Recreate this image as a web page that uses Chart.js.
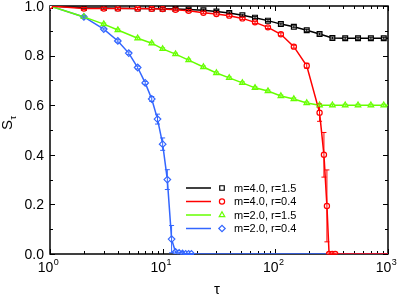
<!DOCTYPE html>
<html>
<head>
<meta charset="utf-8">
<script src="https://cdn.jsdelivr.net/npm/chart.js@4/dist/chart.umd.min.js"></script>
<style>
  html, body { margin: 0; padding: 0; background: #fff; }
  #wrap { width: 399px; height: 296px; }
</style>
</head>
<body>
<div id="wrap"><canvas id="chart"></canvas></div>
<script>
// tau sampled at floor(1.3^n)
const tauGeo = [1,2,3,4,6,8,10,13,17,23,30,39,51,66,86,112,146,190,247,321,417,542,705,917];

const tauBlack = tauGeo;
const sBlack = [1.0,0.993,0.992,0.991,0.99,0.99,0.989,0.988,0.986,0.983,0.978,0.972,0.963,0.953,0.941,0.927,0.916,0.902,0.887,0.871,0.87,0.87,0.87,0.87];
const errBlack = [0,0.004,0.004,0.004,0.004,0.004,0.004,0.004,0.004,0.004,0.004,0.004,0.004,0.004,0.004,0.004,0.004,0.004,0.004,0.004,0.004,0.004,0.004,0.004];

const tauRed = [1,2,3,4,6,8,10,13,17,23,30,39,51,66,86,112,146,190,247,270,287,300,320,340];
const sRed = [1.0,0.99,0.99,0.99,0.99,0.989,0.988,0.985,0.981,0.973,0.968,0.961,0.95,0.934,0.914,0.886,0.836,0.759,0.57,0.40,0.194,0.0,0.0,0.0];
const errRed = [0,0.004,0.004,0.004,0.004,0.004,0.004,0.004,0.004,0.004,0.004,0.004,0.004,0.004,0.005,0.006,0.006,0.01,0.035,0.09,0.145,0.004,0.003,0.003];

const tauGreen = tauGeo;
const sGreen = [1.0,0.956,0.927,0.903,0.87,0.85,0.827,0.806,0.782,0.754,0.73,0.71,0.69,0.67,0.657,0.637,0.625,0.609,0.60,0.60,0.60,0.60,0.60,0.60];
const errGreen = [0,0.004,0.004,0.004,0.004,0.004,0.004,0.004,0.004,0.004,0.004,0.004,0.004,0.004,0.004,0.004,0.004,0.004,0.004,0.004,0.004,0.004,0.004,0.004];

const tauBlue = [1,2,3,4,5,6,7,8,9,10,11,12,13,14,15,16,17,18];
const sBlue = [1.0,0.956,0.907,0.859,0.81,0.752,0.69,0.625,0.544,0.443,0.30,0.06,0.008,0.004,0.002,0,0,0];
const errBlue = [0,0.004,0.004,0.005,0.005,0.006,0.006,0.01,0.02,0.025,0.04,0.055,0.004,0.003,0.003,0.002,0.002,0.002];

const labels = ["m=4.0, r=1.5", "m=4.0, r=0.4", "m=2.0, r=1.5", "m=2.0, r=0.4"];
const xTicks = [1, 10, 100, 1000];
const yTicks = [0, 0.2, 0.4, 0.6, 0.8, 1.0];

const TAU_MAX = 1000;
const FONT = '"Liberation Sans", Arial, sans-serif';

function series(label, xs, ys, errs, color, style, radius, order) {
  const n = xs.length;
  const data = xs.map((x, i) => ({x: x, y: ys[i], e: errs[i]}));
  data.push({x: TAU_MAX, y: ys[n - 1], e: 0}); // line runs on to the frame
  return {
    label: label,
    data: data,
    order: order,
    borderColor: color,
    borderWidth: 1.5,
    pointStyle: style,
    pointRadius: ctx => ctx.dataIndex < n ? radius : 0,
    pointBorderColor: color,
    pointBackgroundColor: '#fff',
    pointBorderWidth: 1.2,
    tension: 0
  };
}

const datasets = [
  series(labels[0], tauBlack, sBlack, errBlack, '#000000', 'rect', 3.4, 1),
  series(labels[1], tauRed, sRed, errRed, '#ff0000', 'circle', 2.6, 0),
  series(labels[2], tauGreen, sGreen, errGreen, '#66ff00', 'triangle', 3.2, 2),
  series(labels[3], tauBlue, sBlue, errBlue, '#3366ff', 'rectRot', 3.3, 3)
];

// frame + inward ticks, under the curves
const framePlugin = {
  id: 'frame',
  beforeDatasetsDraw(chart) {
    const {ctx, chartArea: a, scales: {x, y}} = chart;
    ctx.save();
    ctx.strokeStyle = '#000';
    ctx.lineWidth = 1.5;
    ctx.strokeRect(a.left, a.top, a.right - a.left, a.bottom - a.top);
    ctx.lineWidth = 1;
    ctx.beginPath();
    for (let k = 0; k <= 10; k++) {
      const v = k / 10;
      const py = Math.round(y.getPixelForValue(v)) + 0.5;
      const len = k % 2 === 0 ? 5 : 3;
      ctx.moveTo(a.left, py); ctx.lineTo(a.left + len, py);
      ctx.moveTo(a.right, py); ctx.lineTo(a.right - len, py);
    }
    for (let d = 1; d <= 1000; d *= 10) {
      for (let m = 1; m <= 9; m++) {
        const v = d * m;
        if (v > 1000) break;
        const px = Math.round(x.getPixelForValue(v)) + 0.5;
        const len = m === 1 ? 5 : 3;
        ctx.moveTo(px, a.bottom); ctx.lineTo(px, a.bottom - len);
        ctx.moveTo(px, a.top); ctx.lineTo(px, a.top + len);
      }
    }
    ctx.stroke();
    ctx.restore();
  }
};

const errorBarPlugin = {
  id: 'errbars',
  afterDatasetsDraw(chart) {
    const {ctx, chartArea: a, scales: {x, y}} = chart;
    ctx.save();
    ctx.beginPath();
    ctx.rect(a.left, a.top - 1, a.right - a.left, a.bottom - a.top + 2);
    ctx.clip();
    chart.data.datasets.forEach(ds => {
      ctx.strokeStyle = ds.borderColor;
      ctx.lineWidth = 1;
      ds.data.forEach(p => {
        if (!p.e) return;
        const px = x.getPixelForValue(p.x);
        const y1 = y.getPixelForValue(p.y + p.e);
        const y2 = y.getPixelForValue(p.y - p.e);
        ctx.beginPath();
        ctx.moveTo(px, y1); ctx.lineTo(px, y2);
        ctx.moveTo(px - 2.5, y1); ctx.lineTo(px + 2.5, y1);
        ctx.moveTo(px - 2.5, y2); ctx.lineTo(px + 2.5, y2);
        ctx.stroke();
      });
    });
    ctx.restore();
  }
};

const labelPlugin = {
  id: 'labels',
  afterDraw(chart) {
    const {ctx, chartArea: a, scales: {x, y}} = chart;
    ctx.save();
    ctx.fillStyle = '#000';

    // y tick labels
    ctx.font = '14px ' + FONT;
    ctx.textAlign = 'right';
    ctx.textBaseline = 'middle';
    yTicks.forEach(v => ctx.fillText(v.toFixed(1), a.left - 6, y.getPixelForValue(v) + 1));

    // x tick labels 10^k
    ctx.textBaseline = 'alphabetic';
    ctx.textAlign = 'left';
    xTicks.forEach(v => {
      const k = String(Math.round(Math.log10(v)));
      ctx.font = '14px ' + FONT;
      const w1 = ctx.measureText('10').width;
      ctx.font = '9px ' + FONT;
      const w2 = ctx.measureText(k).width;
      const x0 = x.getPixelForValue(v) - (w1 + w2) / 2 - 2;
      ctx.font = '14px ' + FONT;
      ctx.fillText('10', x0, a.bottom + 18);
      ctx.font = '9px ' + FONT;
      ctx.fillText(k, x0 + w1 + 0.5, a.bottom + 11);
    });

    // axis titles
    ctx.font = '15px ' + FONT;
    ctx.textAlign = 'center';
    ctx.fillText('\u03c4', (a.left + a.right) / 2 - 2, 294);

    ctx.translate(12, 125);
    ctx.rotate(-Math.PI / 2);
    ctx.textAlign = 'left';
    ctx.font = '15px ' + FONT;
    const sw = ctx.measureText('S').width;
    ctx.fillText('S', -sw / 2, 0);
    ctx.font = '9px ' + FONT;
    ctx.fillText('\u03c4', sw / 2 + 0.5, 4);
    ctx.restore();

    // legend: line, marker, text
    ctx.save();
    chart.data.datasets.forEach((ds, i) => {
      const ly = a.top + 182 + i * 13.5;
      ctx.strokeStyle = ds.borderColor;
      ctx.lineWidth = 1.5;
      ctx.beginPath();
      ctx.moveTo(a.left + 136, ly); ctx.lineTo(a.left + 161, ly);
      ctx.stroke();
      ctx.fillStyle = '#fff';
      ctx.lineWidth = 1.2;
      const r = ds.pointStyle === 'circle' ? 2.6 : 3.2;
      Chart.helpers.drawPoint(ctx, {pointStyle: ds.pointStyle, radius: r, rotation: 0, borderWidth: 1.2}, a.left + 172, ly);
      ctx.fillStyle = '#000';
      ctx.font = '11px ' + FONT;
      ctx.textAlign = 'left';
      ctx.textBaseline = 'middle';
      ctx.fillText(ds.label, a.left + 184, ly + 0.5);
    });
    ctx.restore();
  }
};

new Chart(document.getElementById('chart'), {
  type: 'line',
  data: {datasets: datasets},
  options: {
    responsive: true,
    maintainAspectRatio: false,
    animation: false,
    layout: {padding: {left: 0, right: 11, top: 6, bottom: 0}},
    plugins: {legend: {display: false}, tooltip: {enabled: false}},
    scales: {
      x: {
        type: 'logarithmic', min: 1, max: TAU_MAX,
        grid: {display: false}, border: {display: false},
        ticks: {display: false},
        afterFit: s => { s.height = 42; }
      },
      y: {
        type: 'linear', min: 0, max: 1,
        grid: {display: false}, border: {display: false},
        ticks: {display: false},
        afterFit: s => { s.width = 50; }
      }
    }
  },
  plugins: [framePlugin, errorBarPlugin, labelPlugin]
});
</script>
</body>
</html>
